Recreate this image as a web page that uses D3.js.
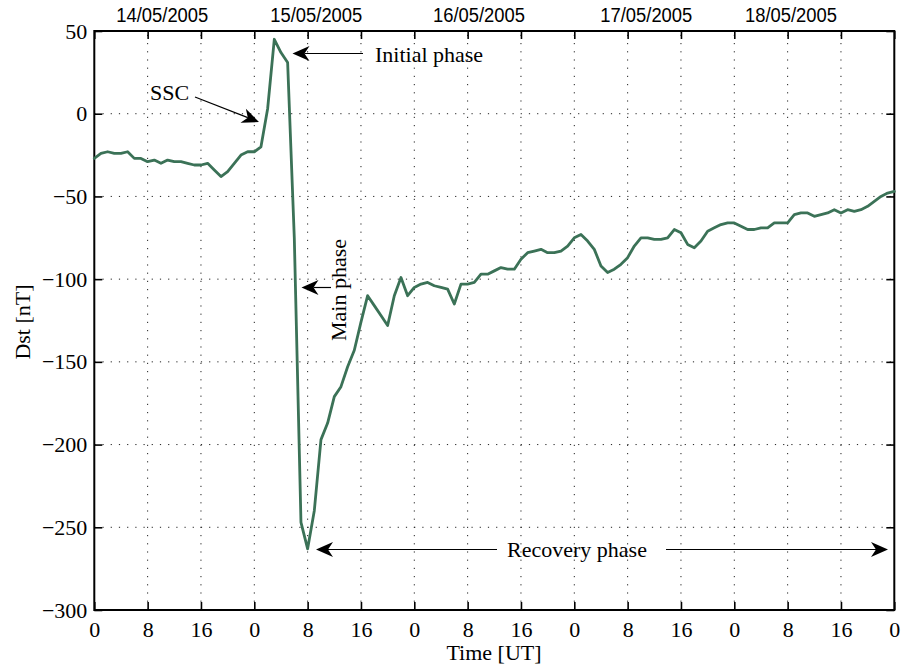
<!DOCTYPE html>
<html>
<head>
<meta charset="utf-8">
<script src="https://cdn.jsdelivr.net/npm/d3@7"></script>
<style>
  html, body { margin: 0; padding: 0; background: #fff; }
  svg { display: block; }
</style>
</head>
<body>
<svg id="chart" width="901" height="666"></svg>
<script>
// ---------------- data ----------------
const hours = d3.range(0, 121); // hours since 14/05/2005 00 UT
const dst = [
  -27, -24, -23, -24, -24, -23, -27, -27, -29, -28, -30, -28, -29, -29, -30, -31,
  -31, -30, -34, -38, -35, -30, -25, -23,
  -23, -20, 3, 45, 37, 31, -75, -247, -263, -240, -197, -187, -171, -165, -153, -143,
  -126, -110, -116, -122, -128, -110, -99, -110,
  -105, -103, -102, -104, -105, -106, -115, -103, -103, -102, -97, -97, -95, -93,
  -94, -94, -88, -84, -83, -82, -84, -84, -83, -80,
  -75, -73, -77, -82, -92, -96, -94, -91, -87, -80, -75, -75, -76, -76, -75, -70,
  -72, -79, -81, -77, -71, -69, -67, -66,
  -66, -68, -70, -70, -69, -69, -66, -66, -66, -61, -60, -60, -62, -61, -60, -58,
  -60, -58, -59, -58, -56, -53, -50, -48,
  -47
];
const xTickValues = d3.range(0, 121, 8);
const xTickLabels = xTickValues.map(h => String(h % 24));
const yTickValues = [50, 0, -50, -100, -150, -200, -250, -300];
const dateLabels = ["14/05/2005", "15/05/2005", "16/05/2005", "17/05/2005", "18/05/2005"];
const dateLabelHours = [10.2, 33.3, 57.7, 82.8, 104.5];

// ---------------- layout ----------------
const svg = d3.select("#chart");
const L = 94.3, R = 894.3, T = 31, B = 610;
const x = d3.scaleLinear().domain([0, 120]).range([L, R]);
const y = d3.scaleLinear().domain([-300, 50]).range([B, T]);
const serif = "'Liberation Serif', 'Times New Roman', Times, serif";
const sans = "'Liberation Sans', Arial, Helvetica, sans-serif";

// grid (dotted)
const grid = svg.append("g").attr("stroke", "#222").attr("stroke-width", 1)
  .attr("stroke-dasharray", "1.2,7");
grid.selectAll("line.v").data(xTickValues.slice(1, -1)).join("line")
  .attr("x1", d => x(d)).attr("x2", d => x(d)).attr("y1", B).attr("y2", T);
grid.selectAll("line.h").data(yTickValues.slice(1, -1)).join("line")
  .attr("y1", d => y(d)).attr("y2", d => y(d)).attr("x1", L).attr("x2", R);

// axes
const tickLen = 8;
const gB = svg.append("g").attr("transform", `translate(0,${B})`)
  .call(d3.axisBottom(x).tickValues(xTickValues).tickSizeInner(-tickLen).tickSizeOuter(0)
    .tickPadding(12).tickFormat((d, i) => xTickLabels[i]));
const gT = svg.append("g").attr("transform", `translate(0,${T})`)
  .call(d3.axisTop(x).tickValues(xTickValues).tickSizeInner(-tickLen).tickSizeOuter(0).tickFormat(""));
const gLft = svg.append("g").attr("transform", `translate(${L},0)`)
  .call(d3.axisLeft(y).tickValues(yTickValues).tickSizeInner(-tickLen).tickSizeOuter(0)
    .tickPadding(7).tickFormat(d => d < 0 ? "\u2212" + Math.abs(d) : String(d)));
const gRgt = svg.append("g").attr("transform", `translate(${R},0)`)
  .call(d3.axisRight(y).tickValues(yTickValues).tickSizeInner(-tickLen).tickSizeOuter(0).tickFormat(""));

[gB, gT, gLft, gRgt].forEach(g => {
  g.select(".domain").remove();
  g.selectAll(".tick line").attr("stroke", "#000").attr("stroke-width", 1.6);
  g.selectAll("text").attr("font-family", serif).attr("font-size", 22).attr("fill", "#000");
});
gB.selectAll(".tick text").attr("dy", "0.71em").attr("y", 11);

// frame
svg.append("rect").attr("x", L).attr("y", T).attr("width", R - L).attr("height", B - T)
  .attr("fill", "none").attr("stroke", "#000").attr("stroke-width", 2);

// data line
const line = d3.line().x((d, i) => x(hours[i])).y(d => y(d));
svg.append("path").datum(dst).attr("d", line)
  .attr("fill", "none").attr("stroke", "#3b7257").attr("stroke-width", 2.8)
  .attr("stroke-linejoin", "round").attr("stroke-linecap", "round");

// date labels on top
svg.append("g").selectAll("text").data(dateLabels).join("text")
  .attr("x", (d, i) => x(dateLabelHours[i]) - 46).attr("y", 22)
  .attr("textLength", 92).attr("lengthAdjust", "spacingAndGlyphs")
  .attr("font-family", sans).attr("font-size", 20).attr("fill", "#000")
  .text(d => d);

// axis titles
svg.append("text").attr("x", 494).attr("y", 660).attr("text-anchor", "middle")
  .attr("font-family", serif).attr("font-size", 22).text("Time [UT]");
svg.append("text").attr("transform", "translate(30,322) rotate(-90)").attr("text-anchor", "middle")
  .attr("font-family", serif).attr("font-size", 22).text("Dst [nT]");

// annotations
function arrow(x1, y1, x2, y2) {
  const dx = x2 - x1, dy = y2 - y1, len = Math.hypot(dx, dy);
  const ux = dx / len, uy = dy / len, nx = -uy, ny = ux;
  const HL = 17, HW = 7.5, notch = 5;
  const bx = x2 - HL * ux, by = y2 - HL * uy;
  const mx = x2 - (HL - notch) * ux, my = y2 - (HL - notch) * uy;
  svg.append("line").attr("x1", x1).attr("y1", y1).attr("x2", mx).attr("y2", my)
    .attr("stroke", "#000").attr("stroke-width", 1.2);
  svg.append("path")
    .attr("d", `M${x2},${y2}L${bx + HW * nx},${by + HW * ny}L${mx},${my}L${bx - HW * nx},${by - HW * ny}Z`)
    .attr("fill", "#000");
}
function label(txt, xx, yy, anchor, rot) {
  const t = svg.append("text").attr("font-family", serif).attr("font-size", 22)
    .attr("text-anchor", anchor || "start").text(txt);
  if (rot) t.attr("transform", `translate(${xx},${yy}) rotate(${rot})`);
  else t.attr("x", xx).attr("y", yy);
}
label("SSC", 150, 99.5);
arrow(195, 97, 259, 122);
label("Initial phase", 375, 62);
arrow(363, 53.5, 292.5, 53.5);
label("Main phase", 346, 290, "middle", -90);
arrow(331, 287.5, 301.5, 287.5);
label("Recovery phase", 577, 557, "middle");
arrow(497, 549.5, 316, 549.5);
arrow(666, 549.5, 888, 549.5);
</script>
</body>
</html>
